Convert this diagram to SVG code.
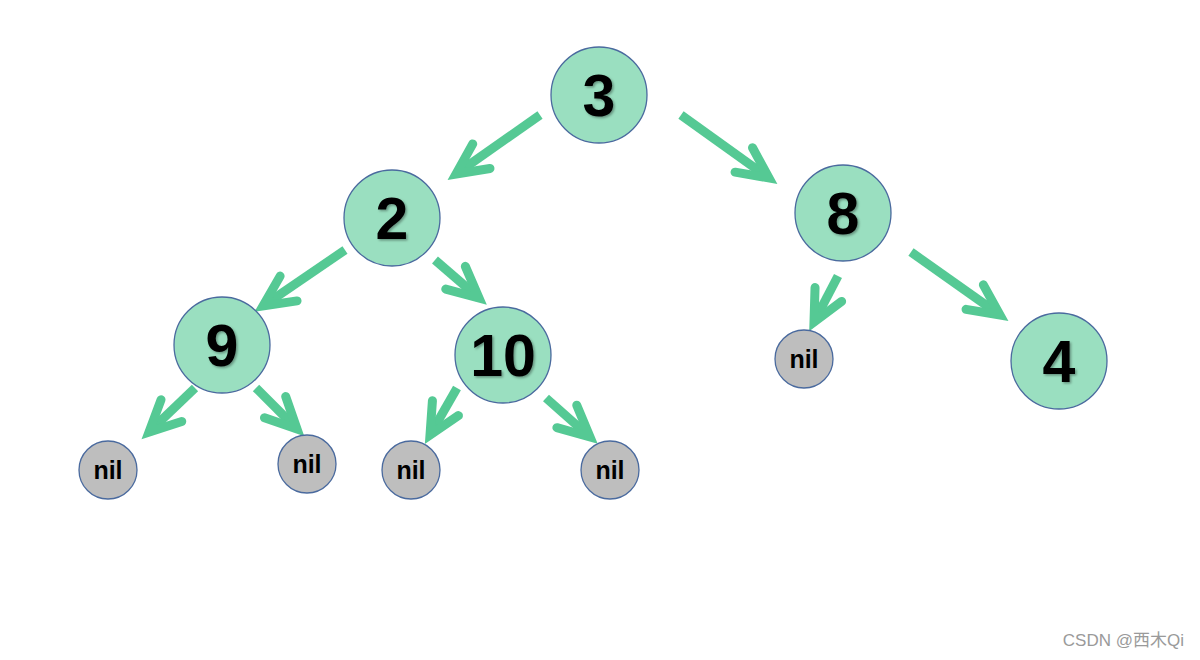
<svg xmlns="http://www.w3.org/2000/svg" width="1200" height="660" viewBox="0 0 1200 660">
<style>
.node{fill:#9ADFC0;stroke:#4A6A9E;stroke-width:1.3}
.nil{fill:#BEBEBE;stroke:#4A6A9E;stroke-width:1.3}
.num{font-family:"Liberation Sans",Arial,sans-serif;font-weight:bold;font-size:59px;text-anchor:middle;fill:#000;filter:url(#sh)}
.niltxt{font-family:"Liberation Sans",Arial,sans-serif;font-weight:bold;font-size:25px;text-anchor:middle;fill:#000}
.arr{stroke:#55C994;stroke-width:9;fill:none;marker-end:url(#head)}
.wm{font-family:"Liberation Sans","Noto Sans CJK SC",sans-serif;font-size:17px;fill:#9a9a9a;text-anchor:end}
</style>
<defs>
<filter id="sh" x="-20%" y="-20%" width="140%" height="140%">
<feDropShadow dx="1.5" dy="1.5" stdDeviation="1" flood-color="#000" flood-opacity="0.35"/>
</filter>
<marker id="head" markerUnits="userSpaceOnUse" viewBox="-40 -22 48 44" refX="0" refY="0" markerWidth="48" markerHeight="44" orient="auto" overflow="visible">
<path d="M-31,-15 L0,0 L-31,15" fill="none" stroke="#55C994" stroke-width="9" stroke-linecap="round" stroke-linejoin="miter"/>
</marker>
</defs>
<rect width="1200" height="660" fill="#fff"/>
<g id="connectors">
<line class="arr" x1="540" y1="115" x2="456" y2="174"/>
<line class="arr" x1="681" y1="115" x2="769" y2="178"/>
<line class="arr" x1="345" y1="250" x2="263" y2="306"/>
<line class="arr" x1="435" y1="260" x2="479" y2="298"/>
<line class="arr" x1="838" y1="276" x2="814" y2="322"/>
<line class="arr" x1="911" y1="252" x2="1000" y2="315"/>
<line class="arr" x1="195" y1="388" x2="149" y2="432"/>
<line class="arr" x1="256" y1="388" x2="297" y2="429"/>
<line class="arr" x1="457" y1="388" x2="430" y2="435"/>
<line class="arr" x1="546" y1="398" x2="590" y2="437"/>
</g>
<g id="n3"><circle class="node" cx="599" cy="95" r="48"/><text class="num" x="599" y="116">3</text></g>
<g id="n2"><circle class="node" cx="392" cy="218" r="48"/><text class="num" x="392" y="239">2</text></g>
<g id="n8"><circle class="node" cx="843" cy="213" r="48"/><text class="num" x="843" y="234">8</text></g>
<g id="n9"><circle class="node" cx="222" cy="345" r="48"/><text class="num" x="222" y="366">9</text></g>
<g id="n10"><circle class="node" cx="503" cy="355" r="48"/><text class="num" x="503" y="376">10</text></g>
<g id="n4"><circle class="node" cx="1059" cy="361" r="48"/><text class="num" x="1059" y="382">4</text></g>
<g id="nil1"><circle class="nil" cx="108" cy="470" r="29"/><text class="niltxt" x="108" y="479">nil</text></g>
<g id="nil2"><circle class="nil" cx="307" cy="464" r="29"/><text class="niltxt" x="307" y="473">nil</text></g>
<g id="nil3"><circle class="nil" cx="411" cy="470" r="29"/><text class="niltxt" x="411" y="479">nil</text></g>
<g id="nil4"><circle class="nil" cx="610" cy="470" r="29"/><text class="niltxt" x="610" y="479">nil</text></g>
<g id="nil5"><circle class="nil" cx="804" cy="359" r="29"/><text class="niltxt" x="804" y="368">nil</text></g>
<text class="wm" x="1184" y="646">CSDN @西木Qi</text>
</svg>
